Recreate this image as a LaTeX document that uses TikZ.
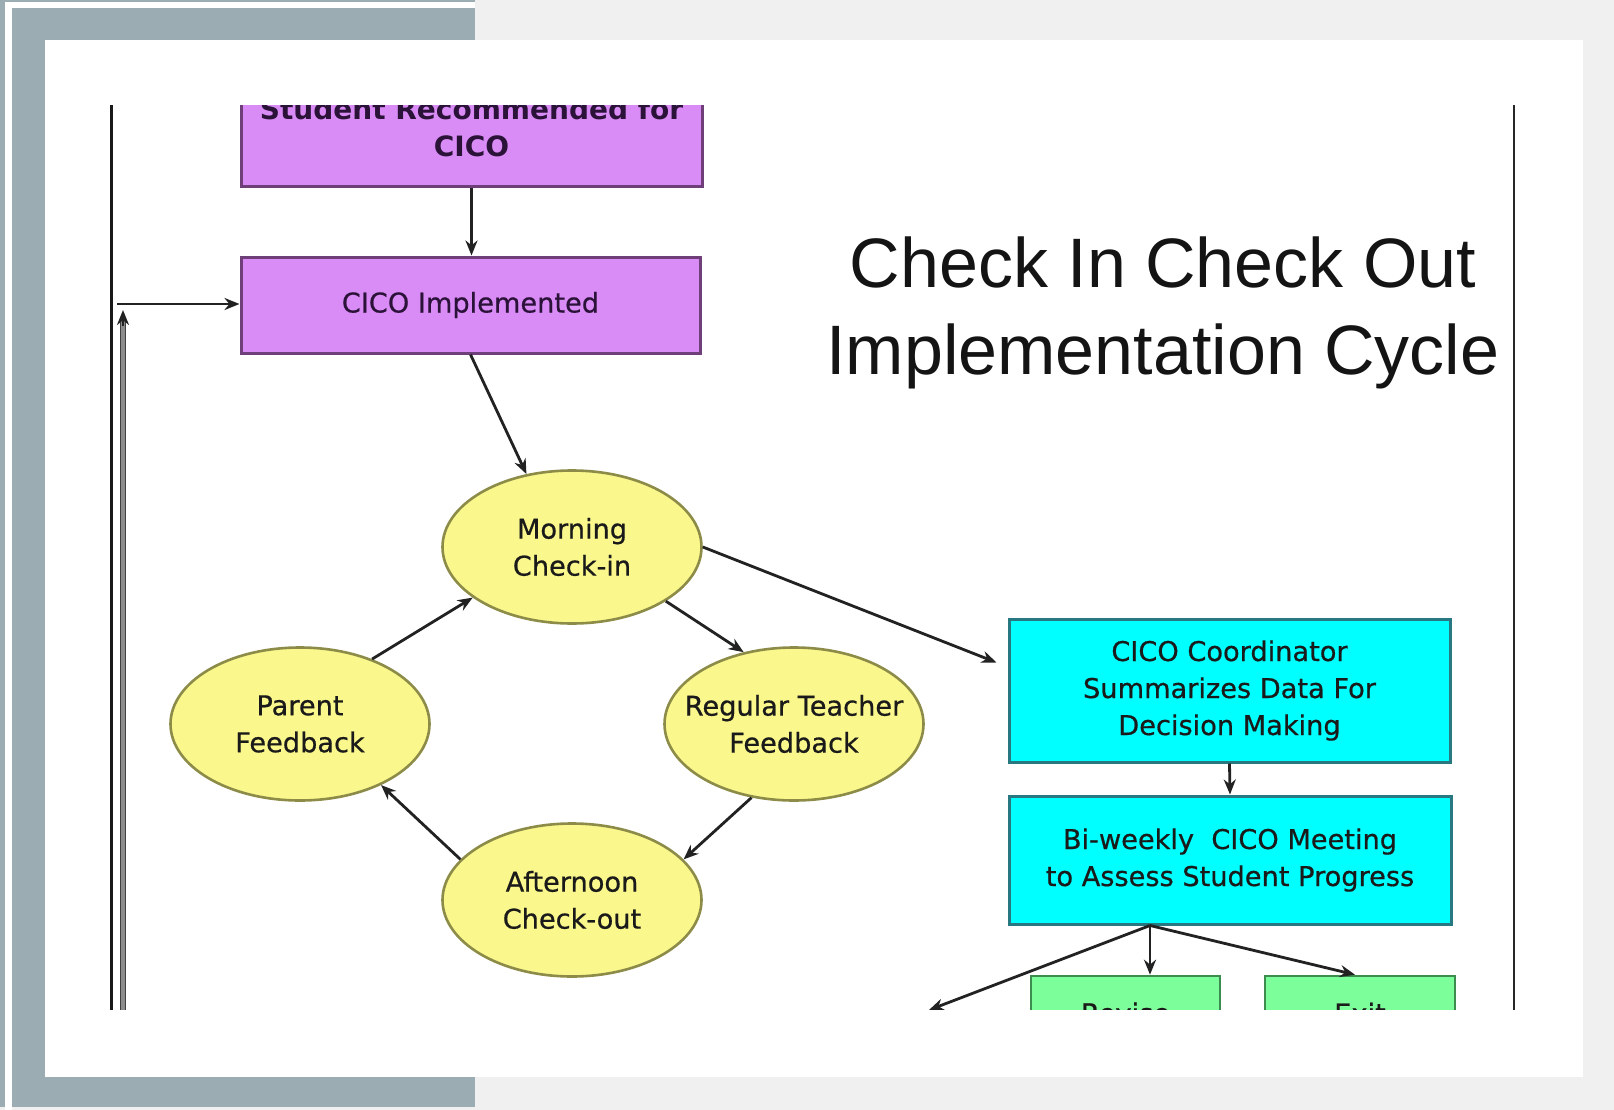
\documentclass[tikz,border=0pt]{standalone}
\usepackage{fontspec}
\newfontfamily\dv[FakeBold=0.6]{DejaVu Sans}
\newfontfamily\dvb{DejaVu Sans Bold}
\newfontfamily\ls{Liberation Sans}
\usetikzlibrary{shapes.geometric,arrows.meta,calc}
\definecolor{frameblue}{HTML}{9BADB3}
\definecolor{bgl}{HTML}{F0F0F0}
\definecolor{purplef}{HTML}{DA8CF6}
\definecolor{purpleb}{HTML}{6E3F78}
\definecolor{purplet}{HTML}{2A1238}
\definecolor{yellowf}{HTML}{FAF78C}
\definecolor{yellowb}{HTML}{8C8C48}
\definecolor{cyanf}{HTML}{00FFFF}
\definecolor{cyanb}{HTML}{287882}
\definecolor{greenf}{HTML}{7CFF9A}
\definecolor{greenb}{HTML}{3C8C50}
\definecolor{linec}{HTML}{222222}
\definecolor{textc}{HTML}{1A1A1A}
\begin{document}
\begin{tikzpicture}[x=1pt,y=-1pt,
  conn/.style={draw=linec, line width=2.8pt, -{Stealth[length=15pt,width=12pt]}},
  body/.style={font=\dv\fontsize{27.2}{37}\selectfont, text=textc, align=center},
  pbox/.style={rectangle, draw=purpleb, line width=3pt, fill=purplef, inner sep=0pt, body, text=purplet},
  ybub/.style={ellipse, draw=yellowb, line width=2.6pt, fill=yellowf, minimum width=259pt, minimum height=153pt, inner sep=0pt},
  lbl/.style={body, inner sep=0pt},
  cbox/.style={rectangle, draw=cyanb, line width=3pt, fill=cyanf, inner sep=0pt, body},
  gbox/.style={rectangle, draw=greenb, line width=2.6pt, fill=greenf, inner sep=0pt, body},
  fbline/.style={draw=black!75, line width=1.5pt, double=black!45, double distance=3.5pt}
]
\useasboundingbox (0,0) rectangle (1614,1110);
% frame
\fill[bgl] (0,0) rectangle (1614,1110);
\fill[white] (5,2) rectangle (475,8);
\fill[white] (5,2) rectangle (12,1110);
\fill[frameblue] (0,0) rectangle (5,1107);
\fill[frameblue] (0,0) rectangle (475,2);
\fill[frameblue] (12,8) rectangle (475,1107);
\fill[white] (45,40) rectangle (1583,1077);

% title
\node[font=\ls\fontsize{70}{87}\selectfont, text=black!92, align=center, inner sep=0pt] (title) at (1163,312.5) {Check In Check Out\\Implementation Cycle};

\begin{scope}
\clip (0,106) rectangle (1614,1009);
% border lines
\draw[black!90, line width=3.2pt] (111.5,100) -- (111.5,1015);
\draw[black!85, line width=2.2pt] (1514,100) -- (1514,1015);

% nodes
\node[pbox, minimum width=461pt, minimum height=118pt, font=\dvb\fontsize{28}{37}\selectfont] (rec) at (471.5,128) {Student Recommended for\\CICO};
\node[pbox, minimum width=459pt, minimum height=96pt] (impl) at (470.5,305) {CICO Implemented};

\node[ybub, label={[lbl]center:Morning\\Check-in}] (morning) at (572,547) {};
\node[ybub, label={[lbl]center:Parent\\Feedback}] (parent) at (300,724) {};
\node[ybub, label={[lbl]center:Regular Teacher\\Feedback}] (teacher) at (794,724) {};
\node[ybub, label={[lbl]center:Afternoon\\Check-out}] (afternoon) at (572,900) {};

\node[cbox, minimum width=441pt, minimum height=143pt] (coord) at (1229.5,690.5) {CICO Coordinator\\Summarizes Data For\\Decision Making};
\node[cbox, minimum width=442pt, minimum height=128pt] (meet) at (1230,860) {Bi-weekly\ \ CICO Meeting\\to Assess Student Progress};

\node[gbox, minimum width=189pt, minimum height=74pt] (revise) at (1125.5,1013) {Revise};
\node[gbox, minimum width=190pt, minimum height=74pt] (exit) at (1360,1013) {Exit};

% connectors
\draw[conn] (rec.south) -- (rec.south |- impl.north);
\draw[conn] (impl.south) -- (morning.122);
\draw[conn] (morning.-30) -- (teacher.125);
\draw[conn] (teacher.-120) -- (afternoon.20);
\draw[conn] (afternoon.160) -- (parent.-37);
\draw[conn] (parent.42) -- (morning.207);
\draw[conn] (morning.east) -- ($(coord.west)+(-11,-28)$);
\draw[conn] (coord.south) -- (meet.north);

\coordinate (ms) at ($(meet.south)+(-80,0)$);
\coordinate (lout) at (929,1010);
\draw[conn] (ms) -- (lout);
\draw[conn] (ms) -- (ms |- revise.north);
\draw[conn] (ms) -- ($(exit.north)+(-5,0)$);

% feedback line on the left
\coordinate (fbbot) at (123,1015);
\coordinate (fbtop) at (123,310);
\coordinate (fbcorner) at (117,304);
\draw[fbline] (fbbot) -- ($(fbtop)+(0,10)$);
\draw[conn] ($(fbtop)+(0,16)$) -- (fbtop);
\draw[conn] (fbcorner) -- (fbcorner -| impl.west);
\end{scope}
\end{tikzpicture}
\end{document}
